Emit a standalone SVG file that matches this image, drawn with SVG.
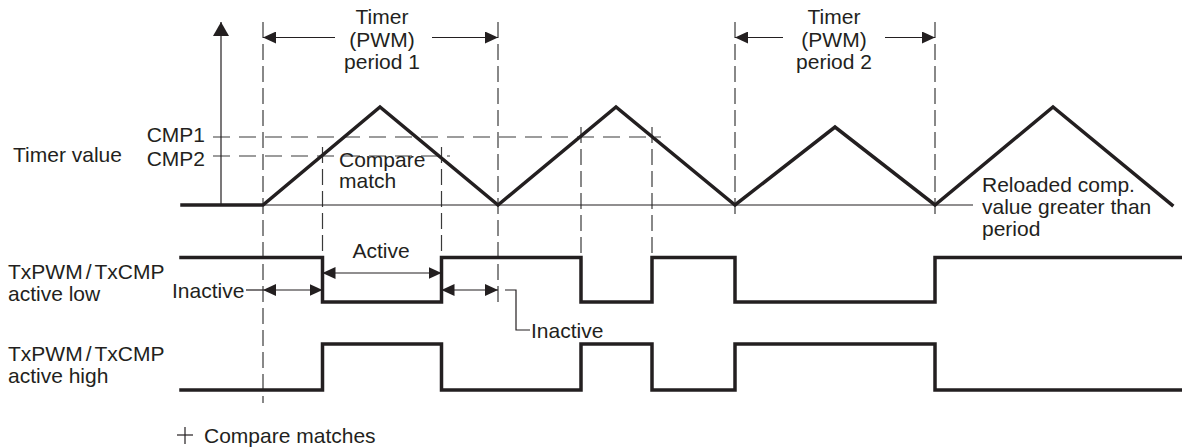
<svg xmlns="http://www.w3.org/2000/svg" width="1182" height="448" viewBox="0 0 1182 448">
<style>
text{font-family:"Liberation Sans",Arial,sans-serif;font-size:21px;fill:#231f20}
.mid{text-anchor:middle}
.end{text-anchor:end}
.thick{fill:none;stroke:#231f20;stroke-width:3.5;stroke-linejoin:miter;stroke-linecap:square}
.thin{fill:none;stroke:#231f20;stroke-width:1.2}
.dv{fill:none;stroke:#3a3a3a;stroke-width:1.2;stroke-dasharray:16 6}
.dh{fill:none;stroke:#3a3a3a;stroke-width:1.2;stroke-dasharray:17 9}
.arr{fill:none;stroke:#231f20;stroke-width:1.2}
</style>
<defs>
<marker id="ah" viewBox="0 0 13 12" refX="13" refY="6" markerWidth="13" markerHeight="12" markerUnits="userSpaceOnUse" orient="auto-start-reverse">
<path d="M0,0 L13,6 L0,12 z" fill="#231f20"/>
</marker>
<marker id="ax" viewBox="0 0 14 16" refX="14" refY="8" markerWidth="14" markerHeight="16" markerUnits="userSpaceOnUse" orient="auto">
<path d="M0,0 L14,8 L0,16 z" fill="#231f20"/>
</marker>
</defs>

<g id="guides">
<line class="dh" x1="213" y1="137" x2="661" y2="137"/>
<line class="dh" x1="213" y1="156" x2="450" y2="156"/>
<line class="dv" x1="263" y1="22" x2="263" y2="403"/>
<line class="dv" x1="498" y1="22" x2="498" y2="308"/>
<line class="dv" x1="735" y1="22" x2="735" y2="214"/>
<line class="dv" x1="935" y1="22" x2="935" y2="214"/>
<line class="dv" x1="322.5" y1="147" x2="322.5" y2="257"/>
<line class="dv" x1="441.5" y1="147" x2="441.5" y2="257"/>
<line class="dv" x1="581" y1="127" x2="581" y2="257"/>
<line class="dv" x1="652" y1="127" x2="652" y2="257"/>
</g>

<g id="axis">
<line class="thin" x1="221" y1="205" x2="221" y2="22" marker-end="url(#ax)"/>
<line class="thin" x1="263" y1="205" x2="973" y2="205"/>
</g>

<g id="timer-waveform">
<polyline class="thick" points="182,205 263,205 380,107 498,205 616,107 735,205 835,127 935,205 1053,107 1172,205"/>
</g>

<g id="active-low-waveform">
<polyline class="thick" points="181,257.5 322.5,257.5 322.5,302 441.5,302 441.5,257.5 581,257.5 581,302 652,302 652,257.5 735,257.5 735,302 935,302 935,257.5 1184,257.5"/>
</g>

<g id="active-high-waveform">
<polyline class="thick" points="181,390 322.5,390 322.5,344 441.5,344 441.5,390 581,390 581,344 652,344 652,390 735,390 735,344 935,344 935,390 1184,390"/>
</g>

<g id="connectors">
<line class="arr" x1="335" y1="37.5" x2="263" y2="37.5" marker-end="url(#ah)"/>
<line class="arr" x1="432" y1="37.5" x2="498" y2="37.5" marker-end="url(#ah)"/>
<line class="arr" x1="783" y1="37.5" x2="735" y2="37.5" marker-end="url(#ah)"/>
<line class="arr" x1="885" y1="37.5" x2="935" y2="37.5" marker-end="url(#ah)"/>
<line class="arr" x1="322.5" y1="273" x2="441.5" y2="273" marker-start="url(#ah)" marker-end="url(#ah)"/>
<line class="arr" x1="246" y1="290" x2="263" y2="290"/>
<line class="arr" x1="263" y1="290" x2="322.5" y2="290" marker-start="url(#ah)" marker-end="url(#ah)"/>
<line class="arr" x1="441.5" y1="290" x2="498" y2="290" marker-start="url(#ah)" marker-end="url(#ah)"/>
<polyline class="arr" points="505,290 516,290 516,330 530,330"/>
</g>

<g id="labels">
<text class="mid" x="382" y="24">Timer</text>
<text class="mid" x="382" y="46.5">(PWM)</text>
<text class="mid" x="382" y="69">period 1</text>
<text class="mid" x="834" y="24">Timer</text>
<text class="mid" x="834" y="46.5">(PWM)</text>
<text class="mid" x="834" y="69">period 2</text>
<text x="13" y="161.5">Timer value</text>
<text class="end" x="205" y="141.5">CMP1</text>
<text class="end" x="205" y="166">CMP2</text>
<text x="339" y="166.5">Compare</text>
<text x="339" y="188">match</text>
<text x="982" y="192">Reloaded comp.</text>
<text x="982" y="214">value greater than</text>
<text x="982" y="236">period</text>
<text x="8" y="279">TxPWM<tspan dx="3">/</tspan><tspan dx="3">TxCMP</tspan></text>
<text x="8" y="301">active low</text>
<text x="8" y="361">TxPWM<tspan dx="3">/</tspan><tspan dx="3">TxCMP</tspan></text>
<text x="8" y="383">active high</text>
<text x="172" y="298">Inactive</text>
<text class="mid" x="381" y="258">Active</text>
<text x="531" y="338">Inactive</text>
</g>

<g id="legend">
<line class="thin" x1="177" y1="435" x2="193" y2="435"/>
<line class="thin" x1="185" y1="427" x2="185" y2="444"/>
<text x="204" y="443">Compare matches</text>
</g>
</svg>
